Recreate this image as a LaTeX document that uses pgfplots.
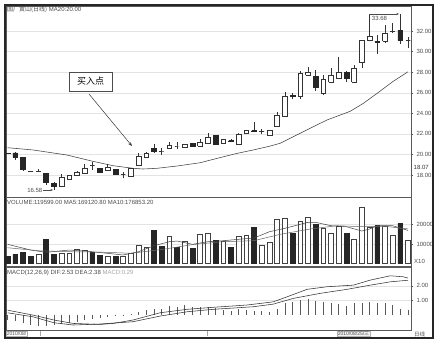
\documentclass[border=0pt]{standalone}
\usepackage{pgfplots}
\pgfplotsset{compat=1.18}
\usepackage{pgfplotstable}
\usepackage{fontspec}
\setmainfont{Liberation Sans}
\newfontfamily\cjk{Noto Sans CJK SC}
\usetikzlibrary{arrows.meta}
\definecolor{axgray}{gray}{0.35}
\definecolor{txtgray}{gray}{0.30}

\pgfplotstableread{
i o h l c
0 20.13 20.16 20.08 20.11
1 20.17 20.20 19.46 19.73
2 19.73 19.75 18.39 18.56
3 18.33 18.40 18.28 18.33
4 18.33 18.60 18.30 18.33
5 18.17 18.20 17.03 17.35
6 17.20 17.35 16.58 16.87
7 16.87 18.10 16.80 17.78
8 17.62 17.98 17.58 17.94
9 17.94 18.40 17.90 18.27
10 18.17 19.05 18.12 18.66
11 18.91 19.30 18.49 18.91
12 18.66 18.70 18.22 18.27
13 18.49 19.05 18.45 18.75
14 18.59 18.62 18.02 18.07
15 18.07 18.27 17.69 18.07
16 17.84 18.70 17.80 18.66
17 18.91 20.11 18.85 19.85
18 19.75 20.24 19.70 20.11
19 20.60 20.99 20.14 20.29
20 20.34 20.63 19.95 20.34
21 20.60 21.24 20.55 20.92
22 20.85 21.18 20.50 20.85
23 20.70 21.05 20.65 20.99
24 21.09 21.12 20.80 20.85
25 20.85 21.48 20.80 21.15
26 21.09 22.06 21.05 21.63
27 21.89 21.92 20.98 21.02
28 21.09 21.50 21.05 21.46
29 21.34 21.50 21.20 21.28
30 20.99 22.05 20.95 22.00
31 22.02 22.35 21.98 22.31
32 22.31 23.19 22.20 22.25
33 22.23 22.50 22.00 22.23
34 21.89 22.40 21.85 22.33
35 22.70 24.16 22.65 23.84
36 23.67 26.10 23.60 25.62
37 25.73 26.00 25.36 25.63
38 25.62 28.10 25.40 27.89
39 27.72 28.53 27.68 28.04
40 27.56 28.20 26.20 26.53
41 26.00 27.70 25.80 27.31
42 27.01 28.37 26.95 27.72
43 27.40 29.50 27.35 28.04
44 27.95 28.10 27.01 27.40
45 27.00 28.70 26.95 28.37
46 28.92 31.10 28.37 31.06
47 31.06 33.60 31.00 31.51
48 31.01 31.61 29.76 30.92
49 31.03 32.58 30.85 31.83
50 31.93 32.75 31.80 31.93
51 32.03 33.68 30.74 31.06
52 31.06 31.45 30.38 31.06
}\candles

\pgfplotstableread{
i v
4 4920
7 5280
8 5280
9 7310
10 6950
13 3900
15 3550
16 5280
17 9490
18 8320
21 14060
23 11520
25 14920
26 15430
28 11170
30 13700
31 14210
33 9140
34 10660
35 22540
36 23050
38 21320
39 23550
41 17970
42 15430
43 19140
45 12540
46 28630
47 18500
49 19000
50 14210
52 11960
}\volW

\pgfplotstableread{
i v
0 3900
1 4770
2 5790
3 3550
5 12540
6 4920
11 5790
12 4420
14 3550
19 16750
20 8980
22 8320
24 7820
27 11670
29 8320
32 18480
37 15430
40 20150
44 15430
48 19290
51 20500
}\volB

\pgfplotstableread{
i m
0 -0.35
1 -0.45
2 -0.60
3 -0.72
4 -0.80
5 -0.80
6 -0.75
7 -0.65
8 -0.60
9 -0.50
10 -0.40
11 -0.30
12 -0.25
13 -0.15
14 -0.10
15 -0.05
16 0.05
17 0.20
18 0.30
19 0.38
20 0.35
21 0.59
22 0.50
23 0.66
24 0.50
25 0.55
26 0.50
27 0.45
28 0.31
29 0.26
30 0.36
31 0.31
32 0.26
33 0.26
34 0.19
35 0.36
36 0.78
37 0.89
38 1.00
39 1.06
40 0.96
41 0.89
42 0.82
43 0.71
44 0.59
45 0.78
46 0.82
47 0.89
48 0.78
49 0.78
50 0.66
51 0.36
52 0.29
}\macdh

\pgfplotsset{
  panel/.style={scale only axis, width=405pt, xmin=-0.21, xmax=52.39,
    xtick=\empty, axis line style={draw=axgray, line width=0.5pt},
    yticklabel pos=right, ytick pos=right, tick align=outside,
    major tick length=2pt, tick style={axgray, line width=0.4pt},
    ymajorgrids, grid style={gray!22, line width=0.4pt}, clip=false,
    scaled y ticks=false,
    yticklabel style={font=\fontsize{6}{7}\selectfont, text=txtgray},
    /pgf/number format/assume math mode=true},
  wick/.style={black!80, line width=0.5pt, mark=none},
  cwhite/.style={draw=black!80, fill=white, line width=0.5pt, mark=none},
  cblack/.style={draw=black!85, fill=black!85, line width=0.5pt, mark=none},
}

\begin{document}
\begin{tikzpicture}
\useasboundingbox (0,0) rectangle (437pt,341pt);

% ---------- price panel ----------
\begin{axis}[panel, at={(6pt,335pt)}, anchor=north west, height=191pt,
  ymin=15.87, ymax=34.43, ytick={18,20,...,32},
  /pgf/number format/fixed, /pgf/number format/fixed zerofill, /pgf/number format/precision=2]
\addplot[black!75, line width=0.55pt, mark=none] coordinates {
(0,20.66) (3.3,20.44) (7.7,19.95) (11,19.35) (13.7,18.91) (16.3,18.66) (17.6,18.59)
(19.4,18.66) (22,18.88) (25,19.2) (27.6,19.7) (29.8,20.11) (31.9,20.44) (34,20.8)
(35.4,21.09) (37.1,21.73) (39.7,22.7) (41.5,23.36) (44.5,24.2) (46.2,24.97)
(48,25.95) (50,27.07) (52,28.04)};
\pgfplotsinvokeforeach{0,...,52}{
  \pgfplotstablegetelem{#1}{o}\of\candles\let\cO\pgfplotsretval
  \pgfplotstablegetelem{#1}{h}\of\candles\let\cH\pgfplotsretval
  \pgfplotstablegetelem{#1}{l}\of\candles\let\cL\pgfplotsretval
  \pgfplotstablegetelem{#1}{c}\of\candles\let\cC\pgfplotsretval
  \pgfmathsetmacro\xa{#1-0.31}
  \pgfmathsetmacro\xb{#1+0.31}
  \pgfmathparse{\cO>\cC}
  \ifdim\pgfmathresult pt>0.5pt \def\cS{cblack}\else\def\cS{cwhite}\fi
  \edef\next{%
    \noexpand\addplot[wick] coordinates {(#1,\cL) (#1,\cH)};
    \noexpand\addplot[\cS] coordinates {(\xa,\cO) (\xb,\cO) (\xb,\cC) (\xa,\cC) (\xa,\cO)};
  }\next
}
\end{axis}

% ---------- volume panel ----------
\begin{axis}[panel, at={(6pt,144pt)}, anchor=north west, height=69pt,
  ymin=-1150, ymax=33860, ytick={10000,20000},
  /pgf/number format/fixed, /pgf/number format/precision=0,
  /pgf/number format/set thousands separator={}]
\addplot[ybar, bar width=0.62, bar shift=0pt, fill=white, draw=black!75, line width=0.5pt] table[x=i,y=v]{\volW};
\addplot[ybar, bar width=0.62, bar shift=0pt, fill=black!85, draw=black!85, line width=0.5pt] table[x=i,y=v]{\volB};
\addplot[black!75, line width=0.5pt, mark=none] coordinates {
(0,9850) (3,6950) (5,5790) (8,6950) (10,6450) (13,5280) (15,4420) (17,6090) (19,9140)
(21,11170) (22,11520) (24,9850) (26,11170) (28,11670) (30,12390) (32,13050) (34,16240)
(36,17970) (39,21010) (40,21010) (42,19290) (44,18780) (46,16600) (47,17610) (48,19290)
(50,19290) (52,16912)};
\addplot[black!60, line width=0.5pt, mark=none] coordinates {
(0,8120) (4,6600) (8,6100) (12,5900) (16,5300) (20,7200) (24,9700) (28,11200) (32,11700)
(35.4,14920) (39.3,17610) (42.8,19290) (46,18800) (49,19000) (52,17685)};
\end{axis}

% ---------- MACD panel ----------
\begin{axis}[panel, at={(6pt,74pt)}, anchor=north west, height=63pt,
  ymin=-1.076, ymax=3.3, ytick={1,2},
  /pgf/number format/fixed, /pgf/number format/fixed zerofill, /pgf/number format/precision=2]
\addplot[ycomb, black!65, line width=0.5pt, mark=none] table[x=i,y=m]{\macdh};
\addplot[black!80, line width=0.55pt, mark=none] coordinates {
(0,0.3) (3.3,-0.04) (6,-0.38) (8.5,-0.62) (12,-0.69) (13.7,-0.62) (16.3,-0.38)
(19.8,0.12) (23.3,0.36) (26.7,0.5) (31.1,0.66) (34.5,0.88) (36.3,1.23) (38.9,1.75)
(41.5,1.93) (44.9,2.04) (47.1,2.39) (49.7,2.69) (51.4,2.62) (52,2.53)};
\addplot[black!80, line width=0.55pt, mark=none] coordinates {
(0,0.12) (3.3,-0.16) (6,-0.57) (8.5,-0.73) (12,-0.66) (16.3,-0.5) (19.8,-0.11)
(23.3,0.19) (26.7,0.36) (31.9,0.54) (34.5,0.72) (37.1,1.12) (40.6,1.47) (44.1,1.75)
(47.1,2.04) (49.7,2.27) (52,2.38)};
\end{axis}

% ---------- texts and annotations (pixel coordinates) ----------
\begin{scope}[x=1pt, y=-1pt, shift={(0pt,341pt)}]
\node[anchor=west, inner sep=0pt, font=\fontsize{6}{7}\selectfont, text=txtgray] at (7,10)
  {{\cjk 国厂黄山(日线)} MA20:20.00};
\node[anchor=west, inner sep=0pt, font=\fontsize{6}{7}\selectfont, text=txtgray] at (7,202)
  {VOLUME:119599.00 MA5:169120.80 MA10:176853.20};
\node[anchor=west, inner sep=0pt, font=\fontsize{6}{7}\selectfont, text=txtgray] at (7,273)
  {MACD(12,26,9) DIF:2.53 DEA:2.38 \textcolor{gray!70}{MACD:0.29}};
\node[anchor=west, inner sep=0pt, font=\fontsize{6}{7}\selectfont, text=txtgray] at (414,261) {X10};
\node[anchor=west, inner sep=0.5pt, fill=white, font=\fontsize{6}{7}\selectfont, text=black!80] at (413,167) {18.07};
% buy point
\node[draw=black!70, fill=white, line width=0.5pt, minimum width=43pt, minimum height=19pt,
  inner sep=0pt, font=\cjk\fontsize{9}{10}\selectfont] at (90.5,81.5) {买入点};
\draw[-{Stealth[length=4pt,width=3pt]}, black!80, line width=0.5pt] (89,94) -- (132,146);
% low / high labels
\node[anchor=east, inner sep=0.5pt, font=\fontsize{6}{7}\selectfont, text=txtgray] at (43,190) {16.58};
\draw[-{Stealth[length=2.5pt,width=2pt]}, black!70, line width=0.4pt] (43,190) -- (53,190);
\draw[black!70, line width=0.4pt] (369,14) -- (396,14);
\draw[-{Stealth[length=2.5pt,width=2pt]}, black!70, line width=0.4pt] (390,14) -- (399,14);
\node[anchor=center, inner sep=0.5pt, font=\fontsize{6}{7}\selectfont, text=txtgray] at (379.5,18) {33.68};
% bottom date bar
\draw[axgray, line width=0.4pt] (6,330) -- (411,330);
\node[anchor=west, draw=gray!60, inner sep=0.6pt, font=\fontsize{5}{6}\selectfont, text=txtgray] at (6,334) {2010/08/};
\node[anchor=west, draw=gray!60, fill=gray!10, inner sep=0.6pt, font=\fontsize{5}{6}\selectfont, text=txtgray] at (337,334) {2010/08/25/{\cjk 三}};
\node[anchor=west, inner sep=0pt, font=\cjk\fontsize{5.5}{6}\selectfont, text=txtgray] at (414,334) {日线};
\draw[gray!70, line width=0.4pt] (40,331) -- (40,336);
\draw[gray!70, line width=0.4pt] (207,331) -- (207,336);
% outer frame
\draw[black!85, line width=1.3pt] (5,5) rectangle (433,338);
\end{scope}
\end{tikzpicture}
\end{document}
